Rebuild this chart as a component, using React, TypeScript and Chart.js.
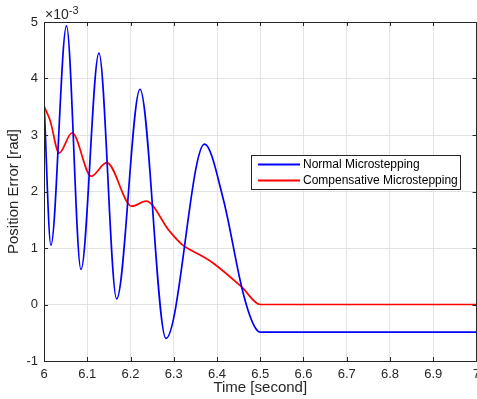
import React, { useEffect, useRef } from "react";
import { Chart, registerables } from "chart.js";

Chart.register(...registerables);

// ---- data (values in units of 1e-3 rad) ----
const normalTime = [6.0, 6.016, 6.052, 6.0855, 6.127, 6.168, 6.222, 6.282, 6.371, 6.415, 6.457, 6.476, 6.49, 6.5, 6.52, 7.0];
const normalError = [3.6, 1.05, 4.93, 0.62, 4.45, 0.1, 3.81, -0.6, 2.84, 1.85, 0.31, -0.2, -0.43, -0.49, -0.49, -0.49];

const compTime = [6.0, 6.014, 6.035, 6.065, 6.109, 6.145, 6.203, 6.236, 6.29, 6.318, 6.36, 6.39, 6.457, 6.5, 7.0];
const compError = [3.51, 3.26, 2.68, 3.04, 2.27, 2.51, 1.74, 1.83, 1.3, 1.07, 0.88, 0.74, 0.31, 0.0, 0.0];

const seriesLabels = ["Normal Microstepping", "Compensative Microstepping"];
const seriesColors = ["#0000ff", "#ff0000"];

const xTicks = [6, 6.1, 6.2, 6.3, 6.4, 6.5, 6.6, 6.7, 6.8, 6.9, 7];
const xTickLabels = ["6", "6.1", "6.2", "6.3", "6.4", "6.5", "6.6", "6.7", "6.8", "6.9", "7"];
const yTicks = [-1, 0, 1, 2, 3, 4, 5];
const yTickLabels = ["-1", "0", "1", "2", "3", "4", "5"];

const FONT = "'Liberation Sans', Arial, Helvetica, sans-serif";
const AXIS = "#262626";
const GRID = "#e3e3e3";

const matlabPlugin = {
  id: "matlabBox",
  afterDatasetsDraw(chart: any) {
    const { ctx, chartArea: a, scales } = chart;
    const xs = scales.x;
    const ys = scales.y;
    ctx.save();
    ctx.strokeStyle = AXIS;
    ctx.lineWidth = 1;
    // box
    ctx.beginPath();
    ctx.rect(Math.round(a.left) + 0.5, Math.round(a.top) + 0.5, Math.round(a.right - a.left) - 1, Math.round(a.bottom - a.top));
    ctx.stroke();
    // inward ticks
    const tl = 4;
    ctx.beginPath();
    xTicks.forEach((v) => {
      const px = Math.round(xs.getPixelForValue(v)) + 0.5;
      ctx.moveTo(px, a.bottom);
      ctx.lineTo(px, a.bottom - tl);
      ctx.moveTo(px, a.top);
      ctx.lineTo(px, a.top + tl);
    });
    yTicks.forEach((v) => {
      const py = Math.round(ys.getPixelForValue(v)) + 0.5;
      ctx.moveTo(a.left, py);
      ctx.lineTo(a.left + tl, py);
      ctx.moveTo(a.right, py);
      ctx.lineTo(a.right - tl, py);
    });
    ctx.stroke();
    // exponent label
    ctx.fillStyle = AXIS;
    ctx.textBaseline = "alphabetic";
    ctx.textAlign = "left";
    ctx.font = `14px ${FONT}`;
    ctx.fillText("\u00d710", a.left + 1, a.top - 3);
    const w = ctx.measureText("\u00d710").width;
    ctx.font = `11px ${FONT}`;
    ctx.fillText("-3", a.left + 1 + w, a.top - 8);

    // legend
    const lx = 251.5, ly = 155.5, lw = 209, lh = 34;
    ctx.fillStyle = "#ffffff";
    ctx.fillRect(lx, ly, lw, lh);
    ctx.strokeStyle = AXIS;
    ctx.strokeRect(lx, ly, lw, lh);
    ctx.font = `12px ${FONT}`;
    ctx.textBaseline = "middle";
    chart.data.datasets.forEach((ds: any, i: number) => {
      const y = ly + 9 + i * 16;
      ctx.strokeStyle = ds.borderColor;
      ctx.lineWidth = 2;
      ctx.beginPath();
      ctx.moveTo(258, y);
      ctx.lineTo(300, y);
      ctx.stroke();
      ctx.fillStyle = "#000000";
      ctx.fillText(ds.label, 303, y);
    });
    ctx.restore();
  },
};

export default function App() {
  const ref = useRef<HTMLCanvasElement | null>(null);
  useEffect(() => {
    if (!ref.current) return;
    const toPts = (xs: number[], ys: number[]) => xs.map((x, i) => ({ x, y: ys[i] }));
    const chart = new Chart(ref.current, {
      type: "line",
      data: {
        datasets: [
          {
            label: seriesLabels[0],
            data: toPts(normalTime, normalError),
            borderColor: seriesColors[0],
            borderWidth: 1.7,
            pointRadius: 0,
            cubicInterpolationMode: "monotone",
            fill: false,
          },
          {
            label: seriesLabels[1],
            data: toPts(compTime, compError),
            borderColor: seriesColors[1],
            borderWidth: 1.7,
            pointRadius: 0,
            cubicInterpolationMode: "monotone",
            fill: false,
          },
        ],
      },
      options: {
        responsive: false,
        animation: false,
        layout: { padding: { top: 22, right: 0.5, left: 0, bottom: 0 } },
        plugins: { legend: { display: false }, tooltip: { enabled: false } },
        scales: {
          x: {
            type: "linear",
            min: 6,
            max: 7,
            afterBuildTicks: (s: any) => {
              s.ticks = xTicks.map((v) => ({ value: v }));
            },
            afterFit: (s: any) => {
              s.height = 38;
              s.paddingLeft = 0;
              s.paddingRight = 0;
            },
            ticks: {
              padding: 6,
              color: AXIS,
              font: { family: FONT, size: 13 },
              maxRotation: 0,
              autoSkip: false,
              callback: (_v: any, i: number) => xTickLabels[i],
            },
            grid: { color: GRID, drawTicks: false },
            border: { display: false },
            title: {
              display: true,
              text: "Time [second]",
              color: AXIS,
              font: { family: FONT, size: 15 },
              padding: { top: 0, bottom: 2 },
            },
          },
          y: {
            type: "linear",
            min: -1,
            max: 5,
            afterBuildTicks: (s: any) => {
              s.ticks = yTicks.map((v) => ({ value: v }));
            },
            afterFit: (s: any) => {
              s.width = 44;
              s.paddingTop = 0;
              s.paddingBottom = 0;
            },
            ticks: {
              padding: 6,
              color: AXIS,
              font: { family: FONT, size: 13 },
              autoSkip: false,
              callback: (_v: any, i: number) => yTickLabels[i],
            },
            grid: { color: GRID, drawTicks: false },
            border: { display: false },
            title: {
              display: true,
              text: "Position Error [rad]",
              color: AXIS,
              font: { family: FONT, size: 15 },
              padding: { top: 5, bottom: 0 },
            },
          },
        },
      },
      plugins: [matlabPlugin],
    } as any);
    return () => chart.destroy();
  }, []);
  return (
    <div style={{ position: "fixed", left: 0, top: 0, width: 477, height: 399, background: "#ffffff" }}>
      <canvas ref={ref} width={477} height={399} style={{ display: "block", width: 477, height: 399 }} />
    </div>
  );
}
